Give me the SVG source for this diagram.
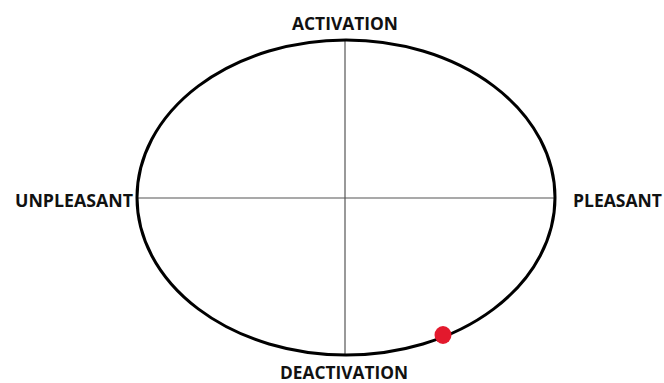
<svg xmlns="http://www.w3.org/2000/svg" width="664" height="383" viewBox="0 0 664 383">
<style>
.lbl{font-family:"Open Sans","Liberation Sans",sans-serif;font-weight:bold;font-size:17px;fill:#111}
.ax{stroke:#555;stroke-width:1.2;fill:none}
</style>
<rect width="664" height="383" fill="#fff"/>
<g id="axes">
<line class="ax" x1="345" y1="40" x2="345" y2="355"/>
<line class="ax" x1="137" y1="198" x2="555" y2="198"/>
</g>
<g id="circumplex">
<ellipse cx="346" cy="197.5" rx="209" ry="157.5" fill="none" stroke="#000" stroke-width="3"/>
</g>
<g id="point">
<ellipse cx="443" cy="335" rx="8.5" ry="9" fill="#e3192d"/>
</g>
<g id="labels">
<text class="lbl" x="292" y="30" textLength="106" lengthAdjust="spacingAndGlyphs">ACTIVATION</text>
<text class="lbl" x="15" y="207" textLength="118" lengthAdjust="spacingAndGlyphs">UNPLEASANT</text>
<text class="lbl" x="573" y="207" textLength="89" lengthAdjust="spacingAndGlyphs">PLEASANT</text>
<text class="lbl" x="280" y="379" textLength="128" lengthAdjust="spacingAndGlyphs">DEACTIVATION</text>
</g>
</svg>
